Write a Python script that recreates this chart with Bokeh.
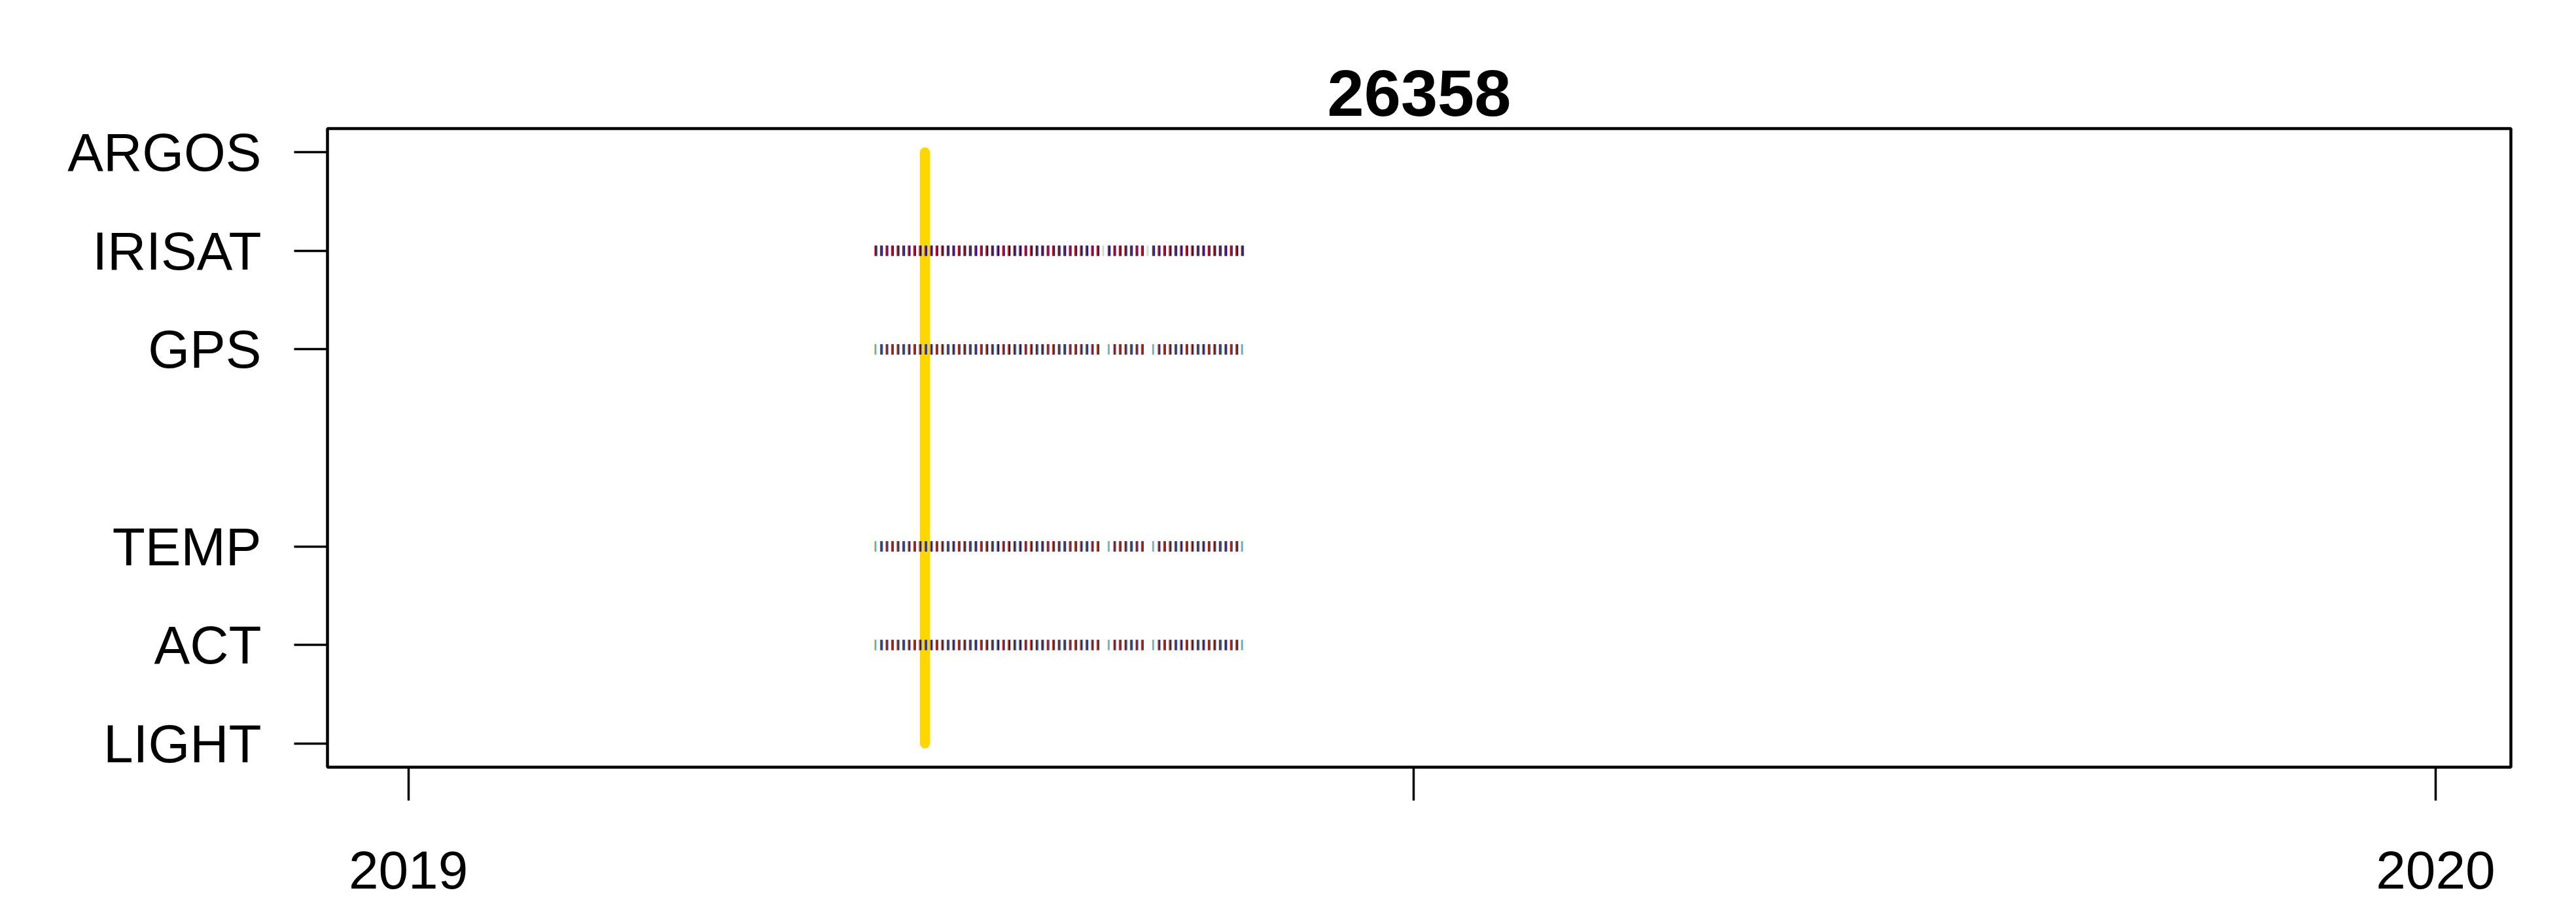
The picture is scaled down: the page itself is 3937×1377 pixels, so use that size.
import pandas as pd
from bokeh.plotting import figure
from bokeh.models import Range1d, FixedTicker, ColumnDataSource
from bokeh.embed import file_html
from bokeh.resources import INLINE

# ---------------- data ----------------
title_text = "26358"
sensors = ["LIGHT", "ACT", "TEMP", "GPS", "IRISAT", "ARGOS"]
sensor_pos = [1, 2, 3, 5, 6, 7]

x_tick_dates = ["2019-01-01", "2019-07-01", "2020-01-01"]
x_tick_labels = ["2019", " ", "2020"]
x_data_min = "2019-01-01"
x_data_max = "2019-12-31"

deployment_date = "2019-04-04"

record_days = [
    "2019-03-26", "2019-03-27", "2019-03-28", "2019-03-29", "2019-03-30", "2019-03-31",
    "2019-04-01", "2019-04-02", "2019-04-03", "2019-04-04", "2019-04-05", "2019-04-06",
    "2019-04-07", "2019-04-08", "2019-04-09", "2019-04-10", "2019-04-11", "2019-04-12",
    "2019-04-13", "2019-04-14", "2019-04-15", "2019-04-16", "2019-04-17", "2019-04-18",
    "2019-04-19", "2019-04-20", "2019-04-21", "2019-04-22", "2019-04-23", "2019-04-24",
    "2019-04-25", "2019-04-26", "2019-04-27", "2019-04-28", "2019-04-29", "2019-04-30",
    "2019-05-01", "2019-05-02", "2019-05-03", "2019-05-04", "2019-05-05", "2019-05-06",
    "2019-05-07", "2019-05-08", "2019-05-09", "2019-05-10", "2019-05-11", "2019-05-12",
    "2019-05-13", "2019-05-14", "2019-05-15", "2019-05-16", "2019-05-17", "2019-05-18",
    "2019-05-19", "2019-05-20", "2019-05-21", "2019-05-22", "2019-05-23", "2019-05-24",
    "2019-05-25", "2019-05-26", "2019-05-27", "2019-05-28", "2019-05-29", "2019-05-30",
    "2019-05-31",
]
record_sensors = ["IRISAT", "GPS", "TEMP", "ACT"]

irisat_faint_days = ["2019-05-06", "2019-05-14"]
sensor_missing_days = ["2019-05-06", "2019-05-14"]
sensor_light_days = ["2019-03-26", "2019-05-07", "2019-05-15", "2019-05-31"]

record_hours = [0, 4, 8]
irisat_colors = ["#FF0000", "#000000", "#0000FF"]
irisat_faint_colors = ["#F2D8B0", "#A8D8EE"]
sensor_colors = ["#FF3A00", "#000000", "#0040FF"]
sensor_light_colors = ["#FF9900", "#1EA8F0"]

# ---------------- build table ----------------
ms = lambda s: pd.Timestamp(s).timestamp() * 1000.0
ypos = dict(zip(sensors, sensor_pos))

rows_t, rows_y, rows_c = [], [], []
for s in record_sensors:
    for d in record_days:
        if s == "IRISAT":
            cols = irisat_faint_colors if d in irisat_faint_days else irisat_colors
        else:
            if d in sensor_missing_days:
                continue
            cols = sensor_light_colors if d in sensor_light_days else sensor_colors
        for h, c in zip(record_hours, cols):
            rows_t.append(ms(d) + h * 3600000.0)
            rows_y.append(ypos[s])
            rows_c.append(c)
src = ColumnDataSource(dict(t=rows_t, y=rows_y, c=rows_c))

# ---------------- figure ----------------
x_lo, x_hi = ms(x_data_min), ms(x_data_max)
pad_x = 0.04 * (x_hi - x_lo)
y_lo, y_hi = min(sensor_pos), max(sensor_pos)
pad_y = 0.04 * (y_hi - y_lo)

FONT = "Liberation Sans"
p = figure(width=3937, height=1377, output_backend="svg", toolbar_location=None,
           x_range=Range1d(x_lo - pad_x, x_hi + pad_x),
           y_range=Range1d(y_lo - pad_y, y_hi + pad_y),
           min_border_left=500, min_border_right=100, min_border_top=196,
           min_border_bottom=201, title=title_text)
p.xgrid.visible = False
p.ygrid.visible = False
p.outline_line_color = "black"
p.outline_line_width = 4.5

p.title.align = "center"
p.title.text_font = FONT
p.title.text_font_size = "101px"
p.title.text_font_style = "bold"
p.title.text_color = "black"
p.title.standoff = 40

for ax in (p.xaxis[0], p.yaxis[0]):
    ax.axis_line_color = None
    ax.major_tick_in = 0
    ax.major_tick_out = 51
    ax.minor_tick_out = 0
    ax.major_tick_line_width = 3.5
    ax.major_tick_line_color = "black"
    ax.major_label_text_font = FONT
    ax.major_label_text_font_size = "82px"
    ax.major_label_text_color = "black"

p.yaxis.ticker = FixedTicker(ticks=sensor_pos)
p.yaxis.major_label_overrides = {v: s for v, s in zip(sensor_pos, sensors)}
p.yaxis.major_label_standoff = 50

x_ticks = [ms(d) for d in x_tick_dates]
p.xaxis.ticker = FixedTicker(ticks=x_ticks)
p.xaxis.major_label_overrides = {v: s for v, s in zip(x_ticks, x_tick_labels)}
p.xaxis.major_label_standoff = 60

# deployment line
dep = ms(deployment_date)
p.segment(x0=[dep], y0=[y_lo], x1=[dep], y1=[y_hi], line_color="#FFD700",
          line_width=15, line_cap="round")

# daily records as "|" marks
p.rect(x="t", y="y", width=1.4, height=16, width_units="screen", height_units="screen",
       fill_color="c", line_color=None, source=src)

open("out.html", "w").write(file_html(p, INLINE))
